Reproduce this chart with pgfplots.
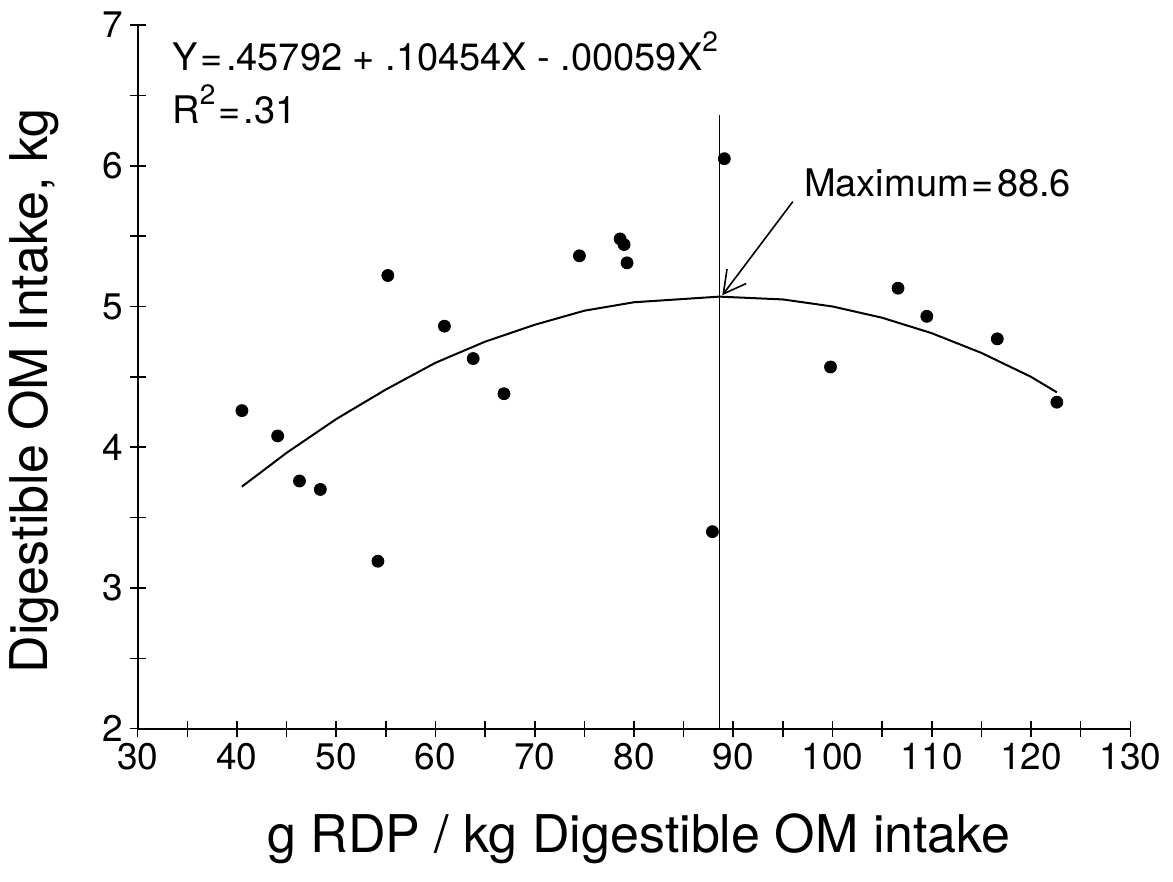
\documentclass[border=0pt]{standalone}
\usepackage{fontspec}
\setmainfont{TeX Gyre Heros}
\usepackage{pgfplots}
\pgfplotsset{compat=1.18}
\usetikzlibrary{arrows.meta,calc}
\newcommand{\sq}{\raisebox{0.5em}{\fontsize{14}{14}\selectfont 2}}
\newcommand{\eq}{\hspace{0.08em}=\hspace{0.08em}}
\begin{document}
\begin{tikzpicture}
\begin{axis}[
  scale only axis,
  width=496.3pt, height=351.85pt,
  xmin=30, xmax=130, ymin=2, ymax=7,
  axis lines=left,
  axis line style={-, line width=1pt},
  xtick={30,40,...,130},
  ytick={2,3,...,7},
  minor xtick={35,45,...,125},
  minor ytick={2.5,3.5,...,6.5},
  tick align=center,
  major tick length=8pt, minor tick length=8pt,
  every tick/.style={black, line width=0.8pt},
  /pgf/number format/assume math mode=true,
  ticklabel style={font=\fontsize{18.5}{21}\selectfont},
  xlabel={g RDP / kg Digestible OM intake},
  ylabel={Digestible OM Intake, kg},
  xlabel style={font=\fontsize{26}{30}\selectfont, at={(axis description cs:0.505,-0.156)}, anchor=center},
  ylabel style={font=\fontsize{26}{30}\selectfont, at={(axis description cs:-0.105,0.48)}, anchor=center},
  clip=false,
]
% data points
\addplot[only marks, mark=*, mark size=3pt, black] coordinates {
(40.5,4.26) (44.1,4.08) (46.3,3.76) (48.4,3.70) (54.2,3.19)
(55.2,5.22) (60.9,4.86) (63.8,4.63) (66.9,4.38) (74.5,5.36)
(78.6,5.48) (79.0,5.44) (79.3,5.31) (87.9,3.40) (89.1,6.05)
(99.8,4.57) (106.6,5.13) (109.5,4.93) (116.6,4.77) (122.6,4.32)
};
% fitted curve
\addplot[black, line width=1pt] coordinates {
(40.5,3.72) (45,3.96) (50,4.20) (55,4.41) (60,4.60) (65,4.75)
(70,4.87) (75,4.97) (80,5.03) (88.6,5.07) (95,5.05) (100,5.00)
(105,4.92) (110,4.81) (115,4.67) (120,4.50) (122.6,4.39)
};
% vertical line at maximum
\addplot[black, line width=0.8pt] coordinates {(88.6,2) (88.6,6.36)};
\node[anchor=base west, font=\fontsize{19}{22}\selectfont, inner sep=0pt] at (axis cs:33.46,6.68) {Y\eq.45792 + .10454X - .00059X\sq};
\node[anchor=base west, font=\fontsize{19}{22}\selectfont, inner sep=0pt] at (axis cs:33.46,6.30) {R\sq\eq.31};
\node[anchor=base west, font=\fontsize{19}{22}\selectfont, inner sep=0pt] at (axis cs:97.1,5.78) {Maximum\eq88.6};
\draw[-{Straight Barb[length=11pt,width=12pt]}, line width=0.8pt] (axis cs:96.0,5.745) -- (axis cs:88.9,5.08);
\end{axis}
\pgfresetboundingbox
\path ($(current axis.south west)+(-68.85pt,-76.65pt)$) rectangle ($(current axis.north east)+(21.35pt,12.5pt)$);
\end{tikzpicture}
\end{document}
